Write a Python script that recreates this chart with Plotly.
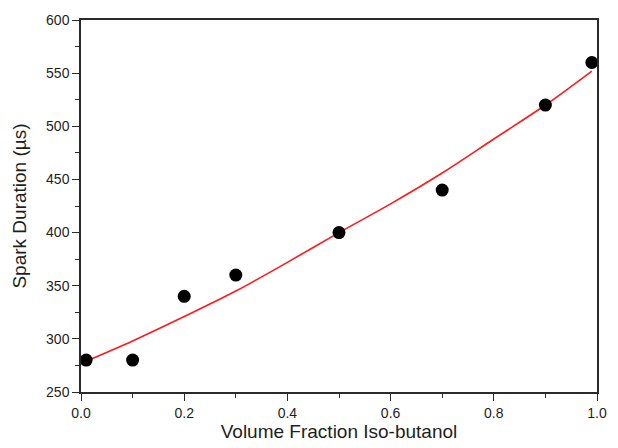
import plotly.graph_objects as go

# Measured spark duration vs. iso-butanol volume fraction
fraction = [0.01, 0.1, 0.2, 0.3, 0.5, 0.7, 0.9, 0.99]
duration_us = [280, 280, 340, 360, 400, 440, 520, 560]

# Fitted trend curve
fit_fraction = [0.01, 0.1, 0.2, 0.3, 0.4, 0.5, 0.6, 0.7, 0.8, 0.9, 0.99]
fit_duration = [279, 298, 321, 345, 372, 400, 427, 456, 488, 520, 552]

x_ticks = [0.0, 0.2, 0.4, 0.6, 0.8, 1.0]
x_tick_text = ["0.0", "0.2", "0.4", "0.6", "0.8", "1.0"]
y_ticks = [250, 300, 350, 400, 450, 500, 550, 600]

font_family = "Liberation Sans, Arial, sans-serif"
ink = "#1e1e1e"

fig = go.Figure()
fig.add_trace(go.Scatter(
    x=fit_fraction, y=fit_duration, mode="lines",
    line=dict(color="#ff1a1a", width=1.6, shape="spline"),
    showlegend=False,
))
fig.add_trace(go.Scatter(
    x=fraction, y=duration_us, mode="markers",
    marker=dict(color="black", size=13),
    showlegend=False, cliponaxis=False,
))

axis_common = dict(
    showgrid=False, zeroline=False, showline=True, mirror=True,
    linecolor="#2a2a2a", linewidth=1.5,
    ticks="outside", ticklen=7, tickwidth=1.3, tickcolor="#2a2a2a",
    tickfont=dict(family=font_family, size=14, color=ink),
)

fig.update_layout(
    width=618, height=448,
    margin=dict(l=81, r=11, t=20, b=48),
    paper_bgcolor="white", plot_bgcolor="white",
    font=dict(family=font_family, color=ink),
    xaxis=dict(
        range=[0, 1.0], tickvals=x_ticks, ticktext=x_tick_text,
        minor=dict(dtick=0.1, ticks="outside", ticklen=4, tickwidth=1.2, tickcolor="#2a2a2a"),
        title=dict(text="Volume Fraction Iso-butanol", font=dict(size=19), standoff=3),
        **axis_common,
    ),
    yaxis=dict(
        range=[250, 600], tickvals=y_ticks,
        minor=dict(dtick=25, ticks="outside", ticklen=4, tickwidth=1.2, tickcolor="#2a2a2a"),
        title=dict(text="Spark Duration (µs)", font=dict(size=19), standoff=14),
        **axis_common,
    ),
)

fig.write_html("out.html")
